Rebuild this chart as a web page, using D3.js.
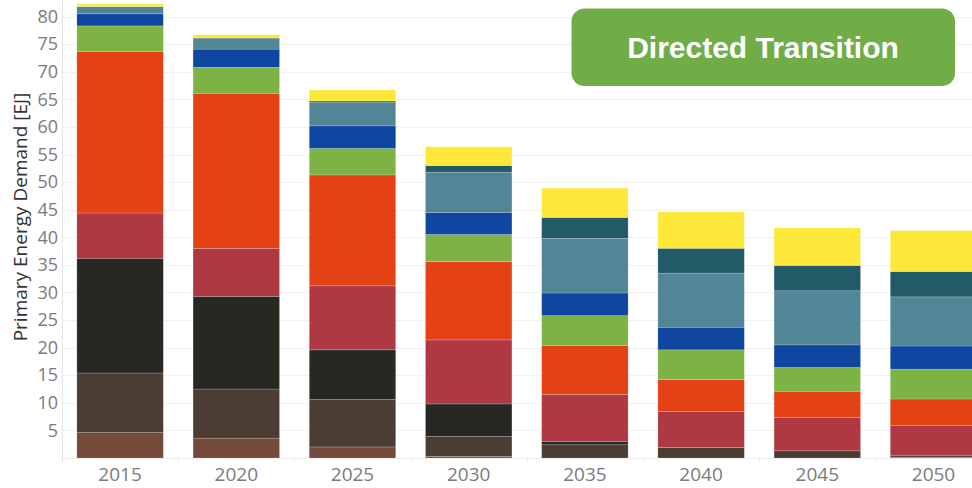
<!DOCTYPE html>
<html>
<head>
<meta charset="utf-8">
<script src="https://cdn.jsdelivr.net/npm/d3@7"></script>
<style>
  body { margin: 0; background: #fff; }
  svg { display: block; }
</style>
</head>
<body>
<svg id="chart" width="972" height="488"></svg>
<script>
// Categories
var years = ["2015", "2020", "2025", "2030", "2035", "2040", "2045", "2050"];
var yTicks = [5, 10, 15, 20, 25, 30, 35, 40, 45, 50, 55, 60, 65, 70, 75, 80];

// Series (bottom to top), EJ
var traditionalBiomass = [4.6, 3.6, 2.0, 0.3, 0.0, 0.0, 0.0, 0.1];
var lignite            = [10.8, 8.9, 8.6, 3.6, 2.4, 1.9, 1.3, 0.3];
var coal               = [20.8, 16.8, 9.0, 5.9, 0.55, 0.0, 0.0, 0.0];
var naturalGas         = [8.2, 8.7, 11.6, 11.6, 8.55, 6.5, 6.0, 5.45];
var oil                = [29.3, 28.1, 20.1, 14.2, 8.9, 5.8, 4.8, 4.85];
var bioenergy          = [4.6, 4.7, 4.8, 4.9, 5.4, 5.4, 4.3, 5.4];
var hydro              = [2.2, 3.3, 4.1, 4.0, 4.1, 4.1, 4.1, 4.2];
var windOnshore        = [1.3, 2.0, 4.3, 7.3, 9.9, 9.8, 9.8, 8.9];
var windOffshore       = [0.0, 0.0, 0.2, 1.2, 3.8, 4.5, 4.6, 4.6];
var solar              = [0.5, 0.6, 2.0, 3.4, 5.3, 6.6, 6.8, 7.4];

var seriesNames  = ["Traditional biomass", "Lignite", "Coal", "Natural gas", "Oil",
                    "Bioenergy", "Hydro", "Wind onshore", "Wind offshore", "Solar"];
var seriesValues = [traditionalBiomass, lignite, coal, naturalGas, oil,
                    bioenergy, hydro, windOnshore, windOffshore, solar];
var seriesColors = ["#744a3a", "#4b3d34", "#282823", "#ae3942", "#e44215",
                    "#7db244", "#0f47a0", "#528595", "#225a68", "#fde83a"];

// Build table for d3.stack
var table = years.map(function (yr, i) {
    var row = { year: yr };
    seriesNames.forEach(function (name, j) { row[name] = seriesValues[j][i]; });
    return row;
});

var svg = d3.select("#chart");
var left = 62, baseY = 458, step = 116.2;

var x = d3.scaleBand()
    .domain(years)
    .range([left, left + step * years.length])
    .paddingInner(0.256)
    .paddingOuter(0.128);

var y = d3.scaleLinear().domain([0, 83]).range([baseY, 0]);

// Gridlines
svg.append("g")
    .attr("class", "grid")
    .selectAll("line")
    .data(yTicks)
    .enter().append("line")
    .attr("x1", left).attr("x2", 972)
    .attr("y1", function (d) { return Math.round(y(d)) + 0.5; })
    .attr("y2", function (d) { return Math.round(y(d)) + 0.5; })
    .attr("stroke", "#f1f1f1")
    .attr("stroke-width", 1);

// left axis line and baseline
svg.append("line")
    .attr("x1", left + 0.5).attr("x2", left + 0.5)
    .attr("y1", 0).attr("y2", baseY + 4)
    .attr("stroke", "#e4e4e4");
svg.append("line")
    .attr("x1", left).attr("x2", 972)
    .attr("y1", baseY + 0.5).attr("y2", baseY + 0.5)
    .attr("stroke", "#ececec");

// small separators between columns under baseline
svg.append("g").selectAll("line")
    .data(years.slice(1))
    .enter().append("line")
    .attr("x1", function (d) { return Math.round(x(d) - x.step() * 0.128) + 0.5; })
    .attr("x2", function (d) { return Math.round(x(d) - x.step() * 0.128) + 0.5; })
    .attr("y1", baseY).attr("y2", baseY + 5)
    .attr("stroke", "#ececec");

// Stacked bars
var stack = d3.stack().keys(seriesNames);
var layers = stack(table);

svg.append("g")
    .selectAll("g")
    .data(layers)
    .enter().append("g")
    .attr("fill", function (d, i) { return seriesColors[i]; })
    .selectAll("rect")
    .data(function (d) { return d; })
    .enter().append("rect")
    .attr("x", function (d) { return x(d.data.year); })
    .attr("width", x.bandwidth())
    .attr("y", function (d) { return y(d[1]); })
    .attr("height", function (d) { return Math.max(0, y(d[0]) - y(d[1])); })
    .attr("stroke", "rgba(255,255,255,0.3)")
    .attr("stroke-width", 0.6);

// Y axis labels
var yAxis = d3.axisLeft(y).tickValues(yTicks).tickSize(0).tickPadding(4);
var gy = svg.append("g")
    .attr("transform", "translate(" + (left) + ",0)")
    .call(yAxis);
gy.select(".domain").remove();
gy.selectAll("text")
    .attr("font-family", "'Open Sans', sans-serif")
    .attr("font-size", 18)
    .attr("fill", "#7b7b7b");

// X axis labels
var xAxis = d3.axisBottom(x).tickSize(0).tickPadding(10);
var gx = svg.append("g")
    .attr("transform", "translate(0," + baseY + ")")
    .call(xAxis);
gx.select(".domain").remove();
gx.selectAll("text")
    .attr("font-family", "'Open Sans', sans-serif")
    .attr("font-size", 19)
    .attr("fill", "#7b7b7b");

// Axis title
svg.append("text")
    .attr("transform", "translate(27,217) rotate(-90)")
    .attr("text-anchor", "middle")
    .attr("font-family", "'Open Sans', sans-serif")
    .attr("font-size", 19)
    .attr("fill", "#333")
    .text("Primary Energy Demand [EJ]");

// Scenario banner
svg.append("rect")
    .attr("x", 571.5).attr("y", 8.5)
    .attr("width", 383.5).attr("height", 77.5)
    .attr("rx", 13).attr("ry", 13)
    .attr("fill", "#70ad47");
svg.append("text")
    .attr("x", 763).attr("y", 58)
    .attr("text-anchor", "middle")
    .attr("font-family", "'Liberation Sans', Arial, sans-serif")
    .attr("font-weight", "bold")
    .attr("font-size", 30)
    .attr("fill", "#fff")
    .text("Directed Transition");
</script>
</body>
</html>
